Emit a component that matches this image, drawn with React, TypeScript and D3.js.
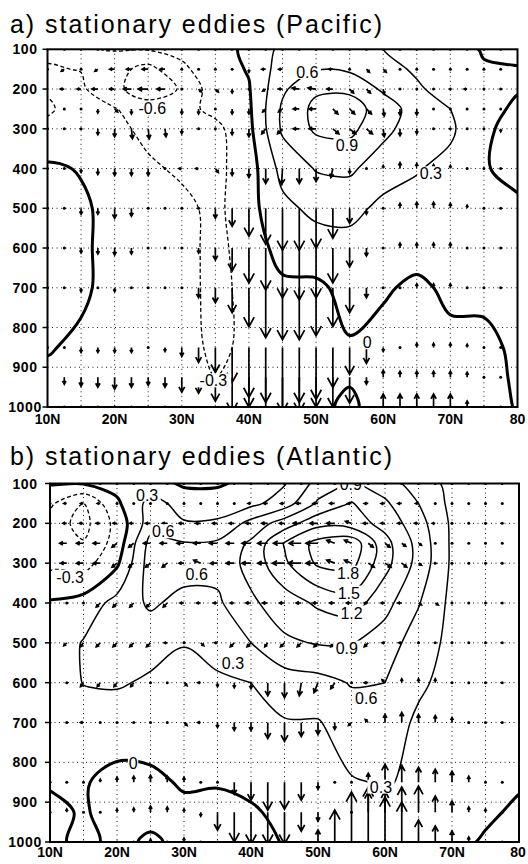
import React from 'react';
import * as d3 from 'd3';

// grid of the contoured field: rows are pressure levels (hPa), columns latitudes
const LATS = [10, 15, 20, 25, 30, 35, 40, 45, 50, 55, 60, 65, 70, 75, 80];
const LEVELS = [100, 150, 200, 250, 300, 400, 500, 600, 700, 850, 925, 1000];
// vector columns every 2.5 degrees
const VEC_LATS = [10, 12.5, 15, 17.5, 20, 22.5, 25, 27.5, 30, 32.5, 35, 37.5, 40, 42.5,
  45, 47.5, 50, 52.5, 55, 57.5, 60, 62.5, 65, 67.5, 70, 72.5, 75, 77.5];
const X_TICKS = [10, 20, 30, 40, 50, 60, 70, 80];
const X_LABELS = ['10N', '20N', '30N', '40N', '50N', '60N', '70N', '80'];
const Y_TICKS = [100, 200, 300, 400, 500, 600, 700, 800, 900, 1000];
const CONTOUR_STEPS = [-0.6, -0.3, 0, 0.3, 0.6, 0.9, 1.2, 1.5, 1.8];

// ---- a) Pacific ----
const pacificField = [
  [-0.35, -0.33, -0.28, -0.28, -0.22, -0.10, 0.05, 0.38, 0.45, 0.45, 0.30, 0.20, 0.10, -0.02, -0.15],
  [-0.28, -0.31, -0.50, -0.70, -0.36, -0.12, 0.02, 0.45, 0.58, 0.55, 0.42, 0.25, 0.12, 0.02, 0.03],
  [-0.28, -0.25, -0.55, -0.72, -0.58, -0.12, -0.02, 0.55, 0.85, 0.85, 0.55, 0.35, 0.15, 0.05, 0.02],
  [-0.33, -0.20, -0.28, -0.50, -0.40, -0.22, -0.05, 0.65, 0.98, 1.02, 0.78, 0.45, 0.30, 0.10, -0.05],
  [-0.25, -0.18, -0.22, -0.38, -0.40, -0.38, -0.08, 0.65, 0.95, 0.98, 0.68, 0.45, 0.35, 0.05, -0.10],
  [0.05, -0.02, -0.15, -0.25, -0.35, -0.38, -0.14, 0.40, 0.62, 0.65, 0.45, 0.32, 0.22, 0.02, -0.08],
  [0.10, 0.05, -0.10, -0.20, -0.22, -0.38, -0.10, 0.22, 0.38, 0.40, 0.22, 0.20, 0.15, 0.08, 0.05],
  [0.10, 0.05, -0.10, -0.15, -0.18, -0.40, -0.15, 0.10, 0.15, 0.18, 0.15, 0.10, 0.10, 0.10, 0.08],
  [0.10, 0.05, -0.10, -0.10, -0.15, -0.42, -0.18, -0.05, -0.05, 0.08, 0.03, -0.05, 0.05, 0.04, 0.05],
  [0.02, -0.05, -0.10, -0.10, -0.15, -0.38, -0.22, -0.15, -0.10, -0.02, -0.08, -0.08, -0.06, -0.04, 0.03],
  [-0.05, -0.08, -0.10, -0.12, -0.15, -0.30, -0.22, -0.15, -0.10, -0.02, -0.10, -0.10, -0.08, -0.05, 0.02],
  [-0.05, -0.08, -0.10, -0.10, -0.12, -0.22, -0.18, -0.12, -0.05, 0.04, -0.10, -0.10, -0.08, -0.06, 0.01],
];

const pacificU = [
  [0, 0, 0, 0, -0.1, -0.1, -0.1, -0.1, 0, 0, 0, 0, 0, 0, 0, 0, 0, 0, 0, 0, 0, 0, 0, 0, 0, 0, 0, 0],
  [0, -0.3, 0, -0.3, -0.5, -0.5, -0.6, -0.5, -0.1, 0, 0, 0, 0, -0.4, -0.4, -0.4, -0.4, -0.4, -0.2, 0.3, 0.3, 0, 0, 0, 0, 0, 0, 0],
  [-0.3, -0.4, -0.4, -0.6, -0.5, -0.8, -1.0, -0.8, -0.1, 0.3, 0.3, 0, 0, -0.3, -0.4, -0.7, -0.8, -0.6, 0.4, 0.4, 0.1, 0, 0, 0, 0, -0.3, 0, 0],
  [-0.4, 0, 0, 0, 0.3, 0, 0, 0.3, 0, 0, 0, 0, 0, -0.3, -0.4, -0.6, -0.7, 0.5, 0.5, 0.5, 0.1, 0, 0, 0, 0, 0, 0, 0],
  [0, 0, 0, 0, 0, 0.1, 0.1, 0.1, 0, 0, 0, 0, 0, -0.4, -0.5, -0.6, -0.7, 0.6, 0.6, 0.6, 0.1, 0, 0, 0, 0, 0, 0, 0],
  [0, 0, 0, 0, 0, 0, 0, 0, -0.3, -0.3, 0.3, 0, 0, 0, -0.1, 0, 0, -0.2, 0, 0, 0, 0, 0, 0, 0, 0, 0, 0],
  [0, 0, 0, 0, 0, 0, 0, 0, 0, 0, 0, 0, 0, 0, 0, 0, 0, 0, 0, 0, 0, 0, 0, 0, 0, 0, 0, 0],
  [0, 0, 0, 0, 0, 0, 0, 0, 0, 0, 0, 0, 0, 0, 0, 0, 0, 0, 0, 0, 0, 0, 0, 0, 0, 0, 0, 0],
  [0, 0, 0, 0, 0, 0, 0, 0, 0, 0, 0, 0, 0, 0, 0, 0, 0, 0, 0, 0, 0, 0, 0, 0, 0, 0, 0, 0],
  [0, 0, 0, 0, 0, 0, 0, 0, 0, 0, 0, 0, 0, 0, 0, 0, 0, 0, 0, 0, 0, 0, 0, 0, 0, 0, 0, 0],
  [-0.3, 0, 0, 0, 0, 0, 0, 0, 0, 0, 0, 0, 0, 0, 0, 0, 0, 0, 0, 0, 0, 0, 0, 0, 0, 0, 0, 0],
  [0, 0, 0, 0, 0, 0, 0, 0, 0, 0, 0, 0, 0, 0, 0, 0, 0, 0, 0, 0, 0, 0, 0, 0, 0, 0, 0, 0],
];

const pacificW = [
  [0, 0, 0, 0, 0, 0, 0, 0, 0, 0, 0, 0, 0, 0, 0, 0, 0, 0, 0, 0, 0, 0, 0, 0, 0, 0, 0, 0],
  [0, -0.2, 0, -0.2, 0, 0, 0, 0, 0, 0, 0, 0, -0.3, 0, 0, 0, 0, 0, 0, -0.3, -0.3, 0, 0, 0, 0, 0, 0, 0],
  [0, 0, 0, 0, 0, 0, 0, 0, 0, -0.3, -0.3, -0.4, 0, -0.2, 0, 0.1, 0.1, 0, -0.4, -0.4, -0.5, 0, 0, 0, 0, 0, 0, 0],
  [0, 0, 0, -0.4, -0.3, -0.5, -0.5, -0.4, -0.5, -0.5, 0, -0.5, -0.5, -0.3, -0.3, 0, 0, -0.5, -0.5, -0.5, -0.7, -0.6, -0.6, 0, 0, 0, 0, 0],
  [0, 0, 0, -0.6, -0.8, -1.0, -1.0, -0.8, -0.5, 0, 0, -0.6, -0.8, -0.5, -0.5, 0, 0, -0.5, -0.5, -0.5, -0.8, -0.7, -0.5, 0, 0, 0, 0, -0.3],
  [0, 0, -0.4, -0.6, -0.7, -0.7, -0.7, 0, 0, 0, -0.4, -0.7, -0.9, -1.5, -1.6, -1.5, -1.3, -0.9, -0.5, 0, 0.3, 0.6, 0.5, 0.4, 0.3, 0, 0, 0],
  [0, 0, -0.6, -0.6, -1.0, -0.8, 0, 0, 0, -0.2, -1.0, -1.8, -2.8, -3.6, -4.2, -4.2, -4.0, -3.0, -1.5, -0.6, 0, 0.5, 0.6, 0.6, 0.5, 0.3, 0, 0],
  [0, 0, -0.5, -0.6, -0.7, -0.6, 0, 0, 0, -0.5, -1.2, -2.3, -3.5, -4.2, -5.0, -5.2, -5.0, -3.5, -1.9, -0.8, 0, 0.5, 0.5, 0.5, 0.5, 0, 0, 0],
  [0, 0, -0.4, 0, -0.4, 0, 0, 0, 0, -1.0, -1.5, -2.5, -3.9, -5.0, -5.2, -5.2, -4.8, -3.9, -2.5, -1.0, 0, 0, 0.4, 0.4, 0.4, 0, 0, 0],
  [0, 0, -0.5, -0.5, -0.5, -0.5, 0, -0.4, -0.9, -1.5, -2.5, -3.5, -5.0, -5.5, -6.5, -5.5, -5.2, -4.0, -2.7, -1.6, -0.4, 0, 0.4, 0.4, 0.4, 0.3, 0, 0],
  [0, -0.7, -0.9, -1.0, -1.2, -1.0, -0.8, -1.0, -1.5, -1.6, -2.4, -3.5, -3.0, -4.0, -4.0, -3.5, -3.0, -3.0, -2.6, -0.7, 0.7, 0.6, 0.6, 0.6, 0.6, 0.5, 0, 0],
  [0, 0, 0, 0, 0, 0, 0, 0, -1.0, -1.0, -1.0, -1.0, -1.0, -1.0, -1.0, -1.0, -1.0, -1.0, -1.0, -1.0, 1.3, 1.3, 1.3, 1.3, 1.3, 0.6, 0, 0],
];

const pacificLabels = [
  { lat: 25.6, p: 248, text: '-0.6' },
  { lat: 48.7, p: 157, text: '0.6' },
  { lat: 54.6, p: 341, text: '0.9' },
  { lat: 67.1, p: 412, text: '0.3' },
  { lat: 57.6, p: 837, text: '0' },
  { lat: 34.7, p: 933, text: '-0.3' },
];

// ---- b) Atlantic ----
const atlanticField = [
  [0.02, 0.02, 0.10, 0.15, -0.05, -0.05, 0.12, 0.28, 0.70, 0.95, 0.75, 0.45, 0.22, 0.20, 0.18],
  [-0.25, -0.60, -0.05, 0.40, 0.20, 0.20, 0.22, 0.45, 0.95, 1.22, 0.95, 0.60, 0.22, 0.20, 0.18],
  [-0.45, -0.70, -0.20, 0.45, 0.32, 0.33, 0.70, 1.05, 1.40, 1.35, 1.10, 0.72, 0.25, 0.18, 0.15],
  [-0.48, -0.58, -0.18, 0.70, 0.62, 0.65, 0.95, 1.52, 1.90, 2.00, 1.30, 0.80, 0.25, 0.18, 0.15],
  [-0.38, -0.42, -0.05, 0.75, 0.75, 0.70, 1.00, 1.45, 1.85, 1.90, 1.30, 0.80, 0.25, 0.18, 0.15],
  [0.03, 0.12, 0.40, 0.65, 0.50, 0.55, 0.85, 1.05, 1.25, 1.35, 1.00, 0.62, 0.22, 0.15, 0.15],
  [0.10, 0.32, 0.45, 0.40, 0.31, 0.42, 0.60, 0.85, 0.92, 0.92, 0.75, 0.45, 0.22, 0.15, 0.15],
  [0.10, 0.31, 0.33, 0.26, 0.22, 0.25, 0.30, 0.45, 0.50, 0.62, 0.60, 0.35, 0.20, 0.15, 0.15],
  [0.10, 0.15, 0.15, 0.15, 0.15, 0.15, 0.25, 0.28, 0.28, 0.45, 0.45, 0.25, 0.20, 0.15, 0.12],
  [0.02, 0.02, -0.08, -0.06, 0.03, 0.02, 0.06, 0.12, 0.15, 0.28, 0.32, 0.25, 0.15, 0.08, 0.02],
  [-0.05, 0.02, -0.08, -0.06, -0.06, -0.08, -0.03, 0.06, 0.10, 0.20, 0.25, 0.20, 0.12, 0.03, -0.03],
  [-0.05, 0.05, -0.05, 0.03, -0.05, -0.10, -0.06, 0.01, 0.08, 0.15, 0.20, 0.15, 0.05, -0.02, -0.05],
];

const atlanticU = [
  [0, 0, 0, 0, 0, 0, 0, 0, 0, 0, 0, 0, 0, 0, 0, 0, 0, 0, 0, 0, 0, 0, 0, 0, 0, 0, 0, 0],
  [0, -0.3, -0.3, -0.3, 0, 0, 0, 0, 0, 0, 0, 0, -0.3, -0.4, -0.4, -0.5, -0.5, -0.5, -0.4, -0.4, -0.4, -0.4, -0.3, 0, 0, 0, 0, 0],
  [0, -0.4, -0.4, -0.4, -0.4, -0.4, -0.5, -0.5, -0.5, -0.5, -0.5, -0.5, -0.5, -0.6, -0.5, -0.8, -0.8, -0.8, -0.6, -0.5, -0.4, -0.4, -0.4, -0.3, 0, 0, 0, 0],
  [-0.4, -0.7, -0.7, -0.7, -0.5, -0.5, -0.7, -0.7, -0.7, -0.7, -0.8, -0.8, -0.9, -1.0, -1.1, -1.2, -1.2, -0.8, -0.7, 0.5, 0.5, 0.4, 0.3, 0, 0, 0, 0, 0],
  [-0.4, -0.6, -0.7, -0.7, -0.5, -0.5, -0.5, -0.5, -0.5, -0.7, -0.7, -0.8, -0.9, -1.0, -1.2, -1.3, -1.2, -0.8, -0.7, 0.6, 0.6, 0.5, 0.3, 0, 0, 0, 0, 0],
  [0, 0, 0, -0.4, -0.4, -0.4, -0.4, -0.4, -0.4, -0.4, -0.4, -0.4, -0.5, -0.5, -0.5, -0.5, -0.5, -0.5, -0.5, -0.4, -0.4, -0.4, 0.3, 0.3, 0, 0, 0, 0],
  [0, -0.3, -0.3, -0.4, -0.4, -0.4, -0.4, -0.3, 0, 0.3, -0.3, -0.4, -0.4, -0.3, -0.4, -0.4, -0.4, -0.4, -0.4, -0.4, -0.3, -0.3, 0, 0, 0, 0, 0, 0],
  [0, 0, -0.3, -0.3, -0.3, -0.3, 0, 0, 0.3, -0.3, 0, 0, 0, 0, 0, -0.2, -0.4, -0.4, 0, -0.4, -0.3, 0, 0, 0, 0, 0, 0, 0],
  [0, 0, -0.3, 0, 0, 0, 0, 0, 0.3, -0.3, 0, 0, 0, 0, 0, 0, 0, 0, -0.3, -0.3, 0, 0, 0, 0, 0, 0, 0, 0],
  [0, 0, 0, 0, 0, 0, 0, 0, 0, 0, 0, 0, 0, 0, 0, 0, 0, 0, 0, 0, 0, 0, 0, 0, 0, 0, 0, 0],
  [-0.2, 0, 0, 0, 0, 0, 0, 0, 0, 0, 0, 0, 0, 0, 0, 0, 0, 0, 0, 0, 0, 0, 0, 0, 0, 0, 0, 0],
  [0, 0, 0, 0, 0, 0, 0, 0, 0, 0, 0, 0, 0, 0, 0, 0, 0, 0, 0, 0, 0, 0, 0, 0, 0, 0, 0, 0],
];

const atlanticW = [
  [0, 0, 0, 0, 0, 0, 0, 0, 0, 0, 0, 0, 0, 0, 0, 0, 0, 0, 0, 0, 0, 0, 0, 0, 0, 0, 0, 0],
  [0, 0, 0, 0, 0, 0, 0, 0, 0, 0, 0, 0, 0, 0, 0, 0, 0, 0, 0, 0, 0, 0, 0, 0, 0, 0, 0, 0],
  [0, 0, 0, 0, 0, 0, 0, 0, 0, 0, 0, 0, 0, 0, 0, 0, 0, 0, 0.2, 0, 0, 0, 0, 0, 0, 0, 0, 0],
  [0, 0, 0, 0, -0.4, -0.4, 0, 0, 0, 0, 0, 0, 0, 0, 0, 0, 0, 0.3, 0.3, -0.4, -0.4, -0.3, -0.2, 0, 0, 0, 0, 0],
  [0, 0, 0, 0, -0.4, -0.4, -0.4, -0.4, 0, 0.3, 0, 0, 0, 0, 0, 0, 0, 0.3, 0.3, -0.4, -0.4, -0.4, -0.2, 0, 0, 0, 0, 0],
  [0, 0, 0, -0.4, -0.4, -0.4, -0.4, -0.4, 0, 0, 0, 0, 0, 0, 0, 0, 0, 0, 0, 0, 0, 0, -0.2, -0.2, 0, 0, 0, 0],
  [0, -0.3, -0.4, -0.4, -0.4, -0.4, -0.4, 0, 0, -0.3, 0, -0.4, -0.4, -0.4, -0.4, -0.4, -0.4, -0.4, 0, -0.4, 0, 0, 0, 0, 0, 0, 0, 0],
  [0, 0, -0.4, -0.4, -0.4, -0.4, 0, 0, -0.3, 0, -0.4, -0.5, -0.6, -1.3, -1.5, -1.3, -1.0, -0.6, 0, 0, 0.3, 0.4, 0.4, 0.4, 0, 0, 0, 0],
  [0, 0, 0, 0, 0, 0, 0, 0, -0.3, 0, -0.5, -0.8, -0.8, -1.6, -1.9, -1.4, -1.2, -0.7, -0.3, 0.3, 0.8, 1.0, 0.8, 0.7, 0.5, 0, 0, 0],
  [0, 0, 0, 0.3, 0.5, 0.6, 0.7, 0.6, 0.5, 0, 0, -1.2, -1.8, -2.8, -2.7, -1.8, -0.7, 0, 0, 0.9, 1.8, 1.7, 1.5, 1.3, 1.1, 0.6, 0, 0],
  [0, 0.3, 0, 0, 0.3, 0.4, 0.6, 0.5, 0.3, -0.4, -1.8, -3.0, -3.2, -3.2, -3.2, -1.9, -0.9, 0, 0, 2.0, 2.1, 2.5, 2.6, 1.6, 1.1, 0.5, 0.3, 0],
  [0, 0, 0, 0, 0, 0, 0.3, 0, 0.4, 0, 0, 0, 0, 0, 0, 0, 1.2, 3.2, 5.0, 5.5, 4.5, 4.0, 2.2, 1.6, 1.1, 0.5, 0, 0],
];

const atlanticLabels = [
  { lat: 13, p: 334, text: '-0.3' },
  { lat: 24.5, p: 128, text: '0.3' },
  { lat: 26.9, p: 220, text: '0.6' },
  { lat: 31.9, p: 328, text: '0.6' },
  { lat: 37.3, p: 550, text: '0.3' },
  { lat: 54.9, p: 100, text: '0.9' },
  { lat: 54.5, p: 324, text: '1.8' },
  { lat: 54.6, p: 374, text: '1.5' },
  { lat: 55, p: 424, text: '1.2' },
  { lat: 54.3, p: 512, text: '0.9' },
  { lat: 57.2, p: 638, text: '0.6' },
  { lat: 59.4, p: 861, text: '0.3' },
  { lat: 22.4, p: 801, text: '0' },
];

const VEC_SCALE = 10; // px per vector unit
const FONT = '"Liberation Sans", Arial, sans-serif';

interface Frame { left: number; right: number; top: number; bottom: number }
interface Label { lat: number; p: number; text: string }

// grid index (d3.contours space, sample i sits at i + 0.5) -> latitude / pressure
const latAt = (c: number) => LATS[0] + (c - 0.5) * (LATS[1] - LATS[0]);
const presAt = (c: number) => {
  const j = c - 0.5;
  const m = LEVELS.length;
  if (j <= 0) return LEVELS[0] + j * (LEVELS[1] - LEVELS[0]);
  if (j >= m - 1) return LEVELS[m - 1] + (j - m + 1) * (LEVELS[m - 1] - LEVELS[m - 2]);
  const k = Math.floor(j);
  return LEVELS[k] + (j - k) * (LEVELS[k + 1] - LEVELS[k]);
};

const Panel: React.FC<{
  id: string; title: string; titleY: number; titleWidth: number; frame: Frame;
  field: number[][]; u: number[][]; w: number[][]; labels: Label[]; xLabelY: number;
}> = ({ id, title, titleY, titleWidth, frame, field, u, w, labels, xLabelY }) => {
  const x = d3.scaleLinear().domain([10, 80]).range([frame.left, frame.right]);
  const y = d3.scaleLinear().domain([100, 1000]).range([frame.top, frame.bottom]);

  const contours = d3.contours()
    .size([LATS.length, LEVELS.length])
    .thresholds(CONTOUR_STEPS)(field.flat());

  const line = d3.line().curve(d3.curveCatmullRomClosed.alpha(0.5));

  const contourPaths = contours.map(c => {
    const d = c.coordinates
      .flatMap(poly => poly.map(ring => {
        const pts = ring.slice(0, -1).map(([cx, cy]) => [x(latAt(cx)), y(presAt(cy))] as [number, number]);
        return line(pts) || '';
      }))
      .join(' ');
    return { value: c.value, d };
  });

  // vectors: tail at the grid point
  const arrows: React.ReactNode[] = [];
  LEVELS.forEach((p, r) => {
    VEC_LATS.forEach((lat, c) => {
      const x0 = x(lat), y0 = y(p);
      const dx = u[r][c] * VEC_SCALE, dy = -w[r][c] * VEC_SCALE;
      const len = Math.hypot(dx, dy);
      const key = `${r}-${c}`;
      if (len < 2.5) {
        arrows.push(<circle key={key} cx={x0} cy={y0} r={1.5} fill="#000" />);
        return;
      }
      const x1 = x0 + dx, y1 = y0 + dy;
      const a = Math.atan2(dy, dx);
      const h = Math.min(11, 0.3 * len + 1.5);
      const s = 0.5;
      const hx1 = x1 - h * Math.cos(a - s), hy1 = y1 - h * Math.sin(a - s);
      const hx2 = x1 - h * Math.cos(a + s), hy2 = y1 - h * Math.sin(a + s);
      arrows.push(
        <path key={key}
          d={`M${x0},${y0}L${x1},${y1}M${hx1},${hy1}L${x1},${y1}L${hx2},${hy2}`}
          fill="none" stroke="#000" strokeWidth={1.7} strokeLinejoin="miter" />
      );
    });
  });

  const gridLats = d3.range(15, 80, 5);
  const gridPres = d3.range(200, 1000, 100);

  return (
    <g>
      <text x={10} y={titleY} fontFamily={FONT} fontSize={25} textLength={titleWidth}
        lengthAdjust="spacing" fill="#000">{title}</text>

      <defs>
        <clipPath id={id}>
          <rect x={frame.left} y={frame.top} width={frame.right - frame.left} height={frame.bottom - frame.top} />
        </clipPath>
      </defs>

      {/* dotted grid */}
      <g stroke="#000" strokeWidth={0.9} strokeDasharray="1 3.5">
        {gridLats.map(l => (
          <line key={`v${l}`} x1={x(l)} x2={x(l)} y1={frame.top} y2={frame.bottom} />
        ))}
        {gridPres.map(p => (
          <line key={`h${p}`} x1={frame.left} x2={frame.right} y1={y(p)} y2={y(p)} />
        ))}
      </g>

      <g clipPath={`url(#${id})`}>
        {contourPaths.map(c => (
          <path key={c.value} d={c.d} fill="none" stroke="#000"
            strokeWidth={c.value === 0 ? 3 : c.value < 0 ? 1.3 : 1.5}
            strokeDasharray={c.value < 0 ? '4 2.5' : undefined}
            strokeLinejoin="round" />
        ))}
        {arrows}
        {labels.map((lb, i) => {
          const wdt = lb.text.length * 8.4 + 2;
          return (
            <g key={i}>
              <rect x={x(lb.lat) - wdt / 2} y={y(lb.p) - 7} width={wdt} height={14} fill="#fff" />
              <text x={x(lb.lat)} y={y(lb.p) + 6} textAnchor="middle" fontFamily={FONT}
                fontSize={16} fill="#000">{lb.text}</text>
            </g>
          );
        })}
      </g>

      {/* frame */}
      <rect x={frame.left} y={frame.top} width={frame.right - frame.left} height={frame.bottom - frame.top}
        fill="none" stroke="#000" strokeWidth={2} />

      {/* y axis */}
      {Y_TICKS.map(p => (
        <g key={p}>
          <line x1={frame.left - 5} x2={frame.left} y1={y(p)} y2={y(p)} stroke="#000" strokeWidth={1.5} />
          <text x={25} y={y(p) + 5} textAnchor="middle" fontFamily={FONT} fontWeight="bold"
            fontSize={14} letterSpacing={0.6} fill="#000">{p}</text>
        </g>
      ))}

      {/* x axis */}
      {X_TICKS.map((t, i) => (
        <text key={t} x={Math.min(x(t), 518)} y={xLabelY} textAnchor="middle" fontFamily={FONT} fontWeight="bold"
          fontSize={14} fill="#000">{X_LABELS[i]}</text>
      ))}
    </g>
  );
};

export default function App() {
  return (
    <svg width={528} height={864} style={{ position: 'absolute', left: 0, top: 0, background: '#fff' }}>
      <rect width={528} height={864} fill="#fff" />
      <Panel id="clipA" title="a) stationary eddies (Pacific)" titleY={33} titleWidth={372}
        frame={{ left: 47.5, right: 517.5, top: 49.3, bottom: 407 }}
        field={pacificField} u={pacificU} w={pacificW} labels={pacificLabels} xLabelY={424} />
      <Panel id="clipB" title="b) stationary eddies (Atlantic)" titleY={465} titleWidth={382}
        frame={{ left: 50, right: 519, top: 483.5, bottom: 842 }}
        field={atlanticField} u={atlanticU} w={atlanticW} labels={atlanticLabels} xLabelY={857} />
    </svg>
  );
}
